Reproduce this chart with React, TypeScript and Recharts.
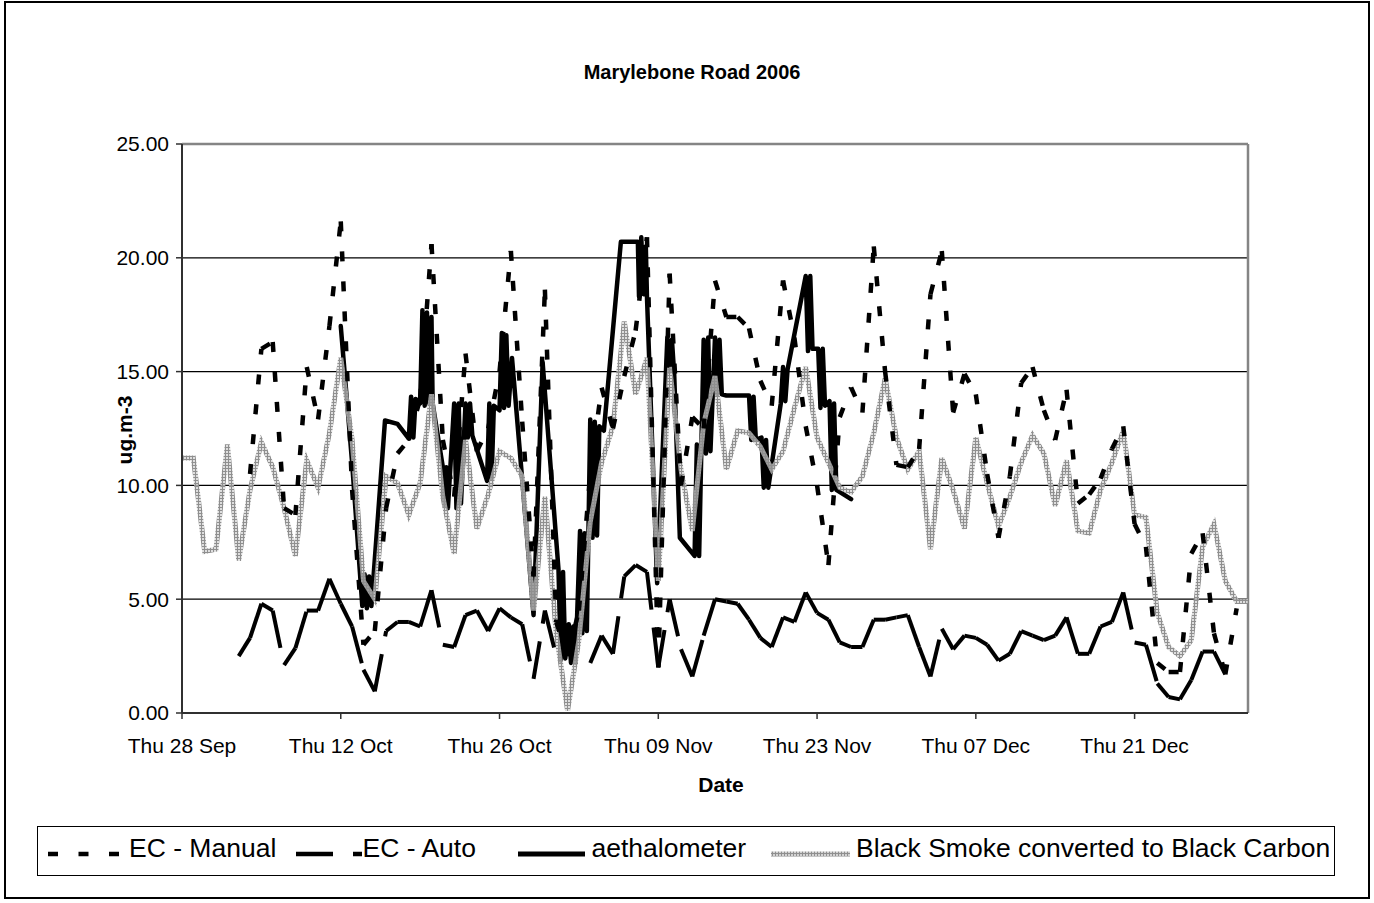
import { LineChart, Line, XAxis, YAxis, CartesianGrid, ReferenceLine } from 'recharts';

const FONT = '"Liberation Sans", Arial, Helvetica, sans-serif';

// day 0 = Thu 28 Sep 2006, one value per day up to 31 Dec
const tickDays = [0, 14, 28, 42, 56, 70, 84];
const tickLabels = ['Thu 28 Sep', 'Thu 12 Oct', 'Thu 26 Oct', 'Thu 09 Nov', 'Thu 23 Nov', 'Thu 07 Dec', 'Thu 21 Dec'];
const yTicks = [0, 5, 10, 15, 20, 25];

const ecManual: (number | null)[] = [
  null, null, null, null, null, null, 10.5, 16.0, 16.3, 9.0,
  8.7, 15.2, 12.9, 17.0, 21.6, 9.8, 3.0, 3.6, 9.0, 11.4,
  12.0, 13.8, 20.6, 12.0, 9.5, 15.8, 11.5, 12.5, 15.0, 20.3,
  12.8, 6.0, 18.6, 4.0, 2.5, 4.5, 10.5, 14.3, 12.5, 14.8,
  16.8, 20.9, 2.0, 19.3, 10.0, 13.0, 12.5, 19.0, 17.4, 17.4,
  16.9, 14.6, 13.5, 19.0, 16.5, 12.6, 10.0, 6.5, 13.0, 14.3,
  13.2, 20.5, 15.0, 10.9, 10.8, 11.6, 18.4, 20.3, 13.2, 14.9,
  14.0, 10.5, 7.7, 10.4, 14.5, 15.2, 13.3, 12.0, 14.2, 9.2,
  9.6, 10.3, 11.6, 12.6, 8.3, 7.3, 2.2, 1.8, 1.8, 7.0,
  7.9, 3.5, 1.7, 4.6, null,
];

const ecAuto: (number | null)[] = [
  null, null, null, null, null, 2.5, 3.3, 4.8, 4.5, 2.1,
  2.85, 4.5, 4.5, 5.9, 4.8, 3.8, 1.9, 0.95, 3.6, 4.0,
  4.0, 3.8, 5.4, 3.0, 2.9, 4.3, 4.5, 3.6, 4.6, 4.2,
  3.9, 1.5, 4.5, 2.5, null, null, 2.2, 3.4, 2.6, 6.0,
  6.5, 6.2, 2.0, 5.0, 2.8, 1.6, 3.4, 5.0, 4.9, 4.8,
  4.1, 3.3, 2.9, 4.2, 4.0, 5.3, 4.4, 4.1, 3.1, 2.9,
  2.9, 4.1, 4.1, 4.2, 4.3, 2.9, 1.6, 3.7, 2.8, 3.4,
  3.3, 3.0, 2.3, 2.6, 3.6, 3.4, 3.2, 3.4, 4.2, 2.6,
  2.6, 3.8, 4.0, 5.3, 3.1, 3.0, 1.3, 0.7, 0.6, 1.45,
  2.7, 2.7, 1.7, null, null,
];

const blackSmoke: number[] = [
  11.2, 11.2, 7.1, 7.2, 11.8, 6.7, 9.8, 11.9, 10.8, 9.0,
  6.9, 11.1, 9.9, 12.3, 15.6, 12.0, 5.8, 5.0, 10.4, 10.1,
  8.7, 10.1, 14.0, 9.5, 7.0, 12.0, 8.1, 9.6, 11.5, 11.2,
  10.4, 4.5, 9.5, 3.5, 0.1, 3.2, 8.4, 11.0, 12.6, 17.2,
  14.0, 15.6, 5.8, 15.2, 10.7, 8.0, 12.7, 14.8, 10.7, 12.4,
  12.3, 11.7, 10.7, 11.5, 13.4, 15.2, 12.1, 11.0, 9.9, 9.7,
  10.4, 12.3, 14.7, 12.1, 10.7, 11.5, 7.2, 11.2, 9.8, 8.1,
  12.1, 10.1, 8.2, 9.5, 11.0, 12.2, 11.4, 9.1, 11.1, 8.0,
  7.9, 9.8, 11.0, 12.4, 8.7, 8.6, 4.4, 2.9, 2.5, 3.2,
  7.3, 8.3, 5.8, 4.9, 4.9,
];

// aethalometer readings [day, ug.m-3]; several readings inside one day give the thick blobs
const aethalometer: [number, number][] = [
  [14.0, 17.0], [15.0, 11.0], [15.9, 4.7],
  [16.1, 6.1], [16.3, 4.6], [16.5, 6.0], [16.7, 4.7],
  [17.9, 12.85], [19.0, 12.7], [20.0, 12.05],
  [20.2, 13.9], [20.4, 12.1], [20.6, 13.8],
  [21.0, 13.6], [21.2, 17.7], [21.4, 13.5], [21.6, 17.6], [21.8, 13.6], [22.0, 17.4], [22.1, 13.6],
  [23.0, 10.8], [23.15, 9.1], [23.3, 10.8], [23.45, 9.0],
  [24.0, 13.6], [24.2, 9.0], [24.4, 13.6], [24.6, 9.2],
  [25.0, 13.6], [25.2, 12.1], [25.4, 13.6], [25.6, 12.2],
  [26.9, 10.2], [27.1, 13.6], [27.3, 10.3], [27.5, 13.5],
  [28.0, 13.3], [28.2, 16.7], [28.4, 13.4], [28.6, 16.6], [28.8, 13.5],
  [29.1, 15.6], [31.0, 4.3], [31.8, 15.4],
  [33.2, 6.3], [33.4, 2.3], [33.6, 6.2], [33.8, 2.4],
  [34.1, 3.9], [34.3, 2.2], [34.5, 3.8], [34.7, 2.2],
  [35.1, 8.0], [35.3, 3.5], [35.5, 7.9], [35.7, 3.6],
  [36.0, 12.9], [36.2, 7.7], [36.4, 12.8], [36.6, 7.8], [36.8, 12.6],
  [37.2, 12.4], [38.7, 20.7], [40.2, 20.7],
  [40.3, 18.3], [40.5, 20.9], [40.7, 18.4], [40.9, 20.5], [41.0, 18.3],
  [41.9, 5.7], [42.8, 16.5], [43.0, 15.0], [43.2, 16.4], [43.4, 14.9],
  [43.9, 7.7], [45.2, 6.9], [45.4, 11.8], [45.6, 6.9], [45.8, 11.7],
  [46.0, 16.4], [46.2, 11.4], [46.4, 16.5], [46.6, 11.5],
  [47.0, 16.5], [47.2, 14.0], [47.4, 16.4], [47.6, 14.0],
  [48.0, 13.95], [50.0, 13.95],
  [50.2, 12.0], [50.4, 13.9], [50.6, 12.0],
  [51.1, 12.1], [51.3, 9.9], [51.5, 12.0], [51.7, 9.9],
  [52.8, 13.6], [53.0, 15.2], [53.2, 13.7], [53.4, 15.1],
  [55.0, 19.2], [55.2, 15.9], [55.4, 19.2], [55.6, 16.0],
  [56.1, 16.0], [56.3, 13.4], [56.5, 16.0], [56.7, 13.5],
  [57.1, 13.7], [57.3, 9.8], [57.5, 13.6], [57.7, 9.8],
  [59.0, 9.4],
];

const daily = blackSmoke.map((bs, day) => ({
  day,
  ecManual: ecManual[day],
  ecAuto: ecAuto[day],
  blackSmoke: bs,
}));
const aethData = aethalometer.map(([day, value]) => ({ day, aeth: value }));

// Excel restarts the dash pattern on every segment, so draw each segment on its own
function segmentDots(dash: string, width: number) {
  return (props: any) => {
    const { cx, cy, index, points } = props;
    const prev = Array.isArray(points) && index > 0 ? points[index - 1] : null;
    const ok = prev && prev.y != null && cy != null && !Number.isNaN(prev.y) && !Number.isNaN(cy);
    if (!ok) return <g key={`seg-${index}`} />;
    return (
      <line
        key={`seg-${index}`}
        x1={prev.x}
        y1={prev.y}
        x2={cx}
        y2={cy}
        stroke="#000"
        strokeWidth={width}
        strokeDasharray={dash}
      />
    );
  };
}

const tickStyle = { fill: '#000', fontSize: 21, fontFamily: FONT };

function LegendBox() {
  return (
    <svg width={1298} height={50} style={{ position: 'absolute', left: 37, top: 826 }}>
      <defs>
        <pattern id="bsHatchLegend" width="3" height="3" patternUnits="userSpaceOnUse">
          <rect width="3" height="3" fill="#d2d2d2" />
          <rect width="3" height="1" fill="#8f8f8f" />
          <rect width="1" height="3" fill="#8f8f8f" />
        </pattern>
      </defs>
      <rect x={0.5} y={0.5} width={1297} height={49} fill="#fff" stroke="#000" strokeWidth={1} />
      <g fontFamily={FONT} fontSize={26.5} fill="#000">
        <line x1={11} y1={28} x2={82} y2={28} stroke="#000" strokeWidth={4.5} strokeDasharray="10 20.5" />
        <text x={92} y={31}>EC - Manual</text>
        <line x1={259} y1={28} x2={325} y2={28} stroke="#000" strokeWidth={4.5} strokeDasharray="37 20" />
        <text x={325.5} y={31}>EC - Auto</text>
        <line x1={481} y1={28} x2={548} y2={28} stroke="#000" strokeWidth={5} />
        <text x={554.5} y={31}>aethalometer</text>
        <line x1={734} y1={28} x2={813} y2={28} stroke="url(#bsHatchLegend)" strokeWidth={5} />
        <text x={819} y={31}>Black Smoke converted to Black Carbon</text>
      </g>
    </svg>
  );
}

export default function App() {
  return (
    <div style={{ position: 'absolute', left: 0, top: 0, width: 1374, height: 903, background: '#fff', fontFamily: FONT }}>
      <div
        style={{
          position: 'absolute',
          left: 4,
          top: 1,
          width: 1366,
          height: 898,
          border: '2px solid #000',
          boxSizing: 'border-box',
        }}
      />
      <div
        style={{
          position: 'absolute',
          left: 492,
          top: 60,
          width: 400,
          textAlign: 'center',
          fontSize: 20,
          lineHeight: '24px',
          fontWeight: 'bold',
        }}
      >
        Marylebone Road 2006
      </div>
      <div style={{ position: 'absolute', left: 0, top: 0 }}>
        <LineChart width={1374} height={903} data={daily} margin={{ top: 144, right: 126, bottom: 130, left: 102 }}>
          <defs>
            <pattern id="bsHatch" width="3" height="3" patternUnits="userSpaceOnUse">
              <rect width="3" height="3" fill="#d2d2d2" fillOpacity={0.75} />
              <rect width="3" height="1" fill="#8f8f8f" />
              <rect width="1" height="3" fill="#8f8f8f" />
            </pattern>
          </defs>
          <CartesianGrid vertical={false} stroke="#000" strokeWidth={1.2} />
          <XAxis
            type="number"
            dataKey="day"
            domain={[0, 94]}
            ticks={tickDays}
            tickFormatter={(d: number) => tickLabels[tickDays.indexOf(d)] ?? ''}
            height={60}
            interval={0}
            tick={tickStyle}
            tickSize={6}
            tickMargin={19}
            axisLine={{ stroke: '#303030', strokeWidth: 2 }}
            tickLine={{ stroke: '#303030', strokeWidth: 1.5 }}
            allowDataOverflow
          />
          <YAxis
            type="number"
            domain={[0, 25]}
            ticks={yTicks}
            tickFormatter={(v: number) => v.toFixed(2)}
            width={80}
            interval={0}
            tick={tickStyle}
            tickSize={6}
            tickMargin={7}
            axisLine={{ stroke: '#303030', strokeWidth: 2 }}
            tickLine={{ stroke: '#303030', strokeWidth: 1.5 }}
            allowDataOverflow
          />
          <ReferenceLine y={25} stroke="#858585" strokeWidth={2.5} />
          <ReferenceLine x={94} stroke="#858585" strokeWidth={2.5} />
          <Line
            dataKey="ecManual"
            stroke="none"
            dot={segmentDots('10 20', 4.5)}
            activeDot={false}
            isAnimationActive={false}
          />
          <Line
            dataKey="ecAuto"
            stroke="none"
            dot={segmentDots('38 18', 4)}
            activeDot={false}
            isAnimationActive={false}
          />
          <Line
            data={aethData}
            dataKey="aeth"
            stroke="#000"
            strokeWidth={4.5}
            strokeLinejoin="round"
            strokeLinecap="round"
            dot={false}
            activeDot={false}
            isAnimationActive={false}
            type="linear"
          />
          <Line
            dataKey="blackSmoke"
            stroke="url(#bsHatch)"
            strokeWidth={5}
            dot={false}
            activeDot={false}
            isAnimationActive={false}
            type="linear"
          />
        </LineChart>
      </div>
      <div
        style={{
          position: 'absolute',
          left: 75,
          top: 418,
          width: 100,
          height: 24,
          lineHeight: '24px',
          textAlign: 'center',
          fontSize: 21,
          fontWeight: 'bold',
          transform: 'rotate(-90deg)',
        }}
      >
        ug.m-3
      </div>
      <div
        style={{
          position: 'absolute',
          left: 621,
          top: 773,
          width: 200,
          lineHeight: '24px',
          textAlign: 'center',
          fontSize: 21,
          fontWeight: 'bold',
        }}
      >
        Date
      </div>
      <LegendBox />
    </div>
  );
}
